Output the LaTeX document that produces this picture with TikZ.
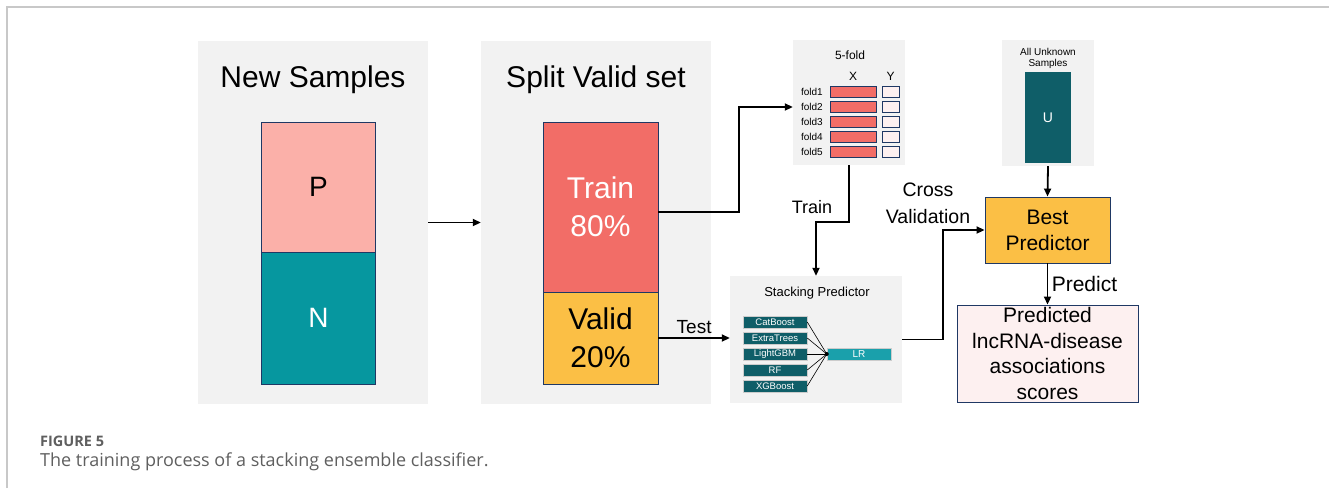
\documentclass[tikz,border=0pt]{standalone}
\usepackage{fontspec}
\setmainfont{Liberation Sans}
\newfontfamily\capfont{Open Sans}
\usetikzlibrary{arrows.meta,positioning}

\definecolor{panelgray}{HTML}{F2F2F2}
\definecolor{navy}{HTML}{1F3864}
\definecolor{pinkP}{HTML}{FBB0A9}
\definecolor{tealN}{HTML}{06979F}
\definecolor{trainred}{HTML}{F26D67}
\definecolor{validgold}{HTML}{FBBF45}
\definecolor{paleY}{HTML}{FDF0F0}
\definecolor{darkteal}{HTML}{0F5E68}
\definecolor{lrteal}{HTML}{1AA0AB}
\definecolor{capgray}{HTML}{5F5F5F}
\definecolor{framegray}{HTML}{C8C8C8}

\newcommand{\fsz}[2]{\fontsize{#1}{#2}\selectfont}

\tikzset{
  panel/.style={fill=panelgray, inner sep=0pt},
  block/.style={draw=navy, line width=0.9pt, inner sep=0pt, align=center},
  model/.style={fill=darkteal, draw=gray!40, line width=0.5pt, text=white,
    minimum width=64pt, minimum height=12pt, inner sep=0pt, font={\fsz{9.5}{11}}},
  arr/.style={-{Triangle[length=8pt,width=7pt]}, line width=1.8pt},
}

\begin{document}
\begin{tikzpicture}[x=1pt, y=-1pt]
  \useasboundingbox (0,0) rectangle (1329,488);
  \draw[framegray, line width=1.5pt] (7,488) -- (7,7) -- (1329,7);

  \node (newbg)   at (313,222.5) [panel, minimum width=230pt, minimum height=363pt] {};
  \node (splitbg) at (596,222.5) [panel, minimum width=230pt, minimum height=363pt] {};
  \node (foldbg)  at (849,102.5) [panel, minimum width=112pt, minimum height=125pt] {};
  \node (ubg)     at (1048,103)  [panel, minimum width=92pt, minimum height=126pt] {};
  \node (stackbg) at (816,339.5) [panel, minimum width=172pt, minimum height=127pt] {};

  \node (newtitle)   at (313,87) [anchor=base, font={\fsz{30}{36}}] {New Samples};
  \node (splittitle) at (596,87) [anchor=base, font={\fsz{30}{36}}] {Split Valid set};

  \node (P) at (318.5,187) [block, fill=pinkP, minimum width=114pt, minimum height=130pt, font={\fsz{28}{34}}] {P};
  \node (N) at (318.5,318) [block, fill=tealN, text=white, minimum width=114pt, minimum height=132pt, font={\fsz{28}{34}}] {N};
  \node (train) at (600.5,207) [block, fill=trainred, text=white, minimum width=115pt, minimum height=170pt, font={\fsz{30}{38}}] {Train\\80\%};
  \node (valid) at (600.5,338) [block, fill=validgold, minimum width=115pt, minimum height=92pt, font={\fsz{30}{38}}] {Valid\\20\%};

  \node (foldtitle) at (850,55) [font={\fsz{12}{14}}] {5-fold};
  \node (xhead) at (853,76) [font={\fsz{12}{14}}] {X};
  \node (yhead) at (890.5,76) [font={\fsz{12}{14}}] {Y};
  \foreach \i in {1,...,5} {
    \node (fold\i) at (824,77+15*\i) [anchor=east, inner sep=1pt, font={\fsz{10}{12}}] {fold\i};
    \node (xbar\i) at (853,77+15*\i) [block, line width=0.7pt, fill=trainred, minimum width=46pt, minimum height=11pt] {};
    \node (ybox\i) at (890.5,77+15*\i) [block, line width=0.7pt, fill=paleY, minimum width=17pt, minimum height=11pt] {};
  }

  \node (utitle) at (1048,58) [align=center, font={\fsz{10}{11}}] {All Unknown\\Samples};
  \node (U) at (1048,117.5) [fill=darkteal, text=white, minimum width=46pt, minimum height=91pt, inner sep=0pt, font={\fsz{14}{16}}] {U};

  \node (stacktitle) at (817,293) [font={\fsz{13}{15}}] {Stacking Predictor};
  \foreach \m [count=\k] in {CatBoost,ExtraTrees,LightGBM,RF,XGBoost}
    \node (m\k) at (775,306+16*\k) [model] {\m};
  \node (lr) at (859,354) [model, fill=lrteal, font={\fsz{10}{12}}] {LR};
  \foreach \k in {1,...,5}
    \draw[line width=0.6pt] (m\k.east) -- (lr.west);
  \fill (lr.west) circle (2pt);

  \node (best) at (1047.5,230) [block, fill=validgold, minimum width=125pt, minimum height=66pt, font={\fsz{21}{26}}] {Best\\Predictor};
  \node (pred) at (1047.5,353.5) [block, fill=paleY, minimum width=181pt, minimum height=97pt, font={\fsz{21}{25.5}}] {Predicted\\lncRNA-disease\\associations\\scores};

  \draw[arr] (newbg.east) -- (splitbg.west);
  \coordinate (bendA) at (739,212);
  \draw[arr] (train.east |- bendA) -- (bendA) |- (fold2 -| foldbg.west);
  \coordinate (bendB) at (816,222);
  \draw[arr] (foldbg.south) |- (bendB) -- (stackbg.north);
  \node (trainlbl) at (812,213) [anchor=base, font={\fsz{18}{20}}] {Train};
  \draw[arr] (valid.east) -- (valid.east -| stackbg.west) node[midway, above, font={\fsz{19}{21}}] (testlbl) {Test};
  \coordinate (bendC) at (943,339.5);
  \draw[arr] (stackbg.east) -- (bendC) |- (best.west);
  \node (cvlbl) at (928,203) [align=center, font={\fsz{19.5}{26.6}}] {Cross\\Validation};
  \draw[arr] (ubg.south) -- (best.north);
  \draw[arr] (best.south) -- (pred.north) node[midway, right, font={\fsz{21}{24}}] (predlbl) {Predict};

  \node (figno) at (40,446) [anchor=base west, inner sep=0pt, text=capgray, font={\capfont\bfseries\fsz{14.5}{16}}] {FIGURE 5};
  \node (figcap) at (40,466) [anchor=base west, inner sep=0pt, text=capgray, font={\capfont\fsz{18}{20}}] {The training process of a stacking ensemble classifier.};
\end{tikzpicture}
\end{document}
